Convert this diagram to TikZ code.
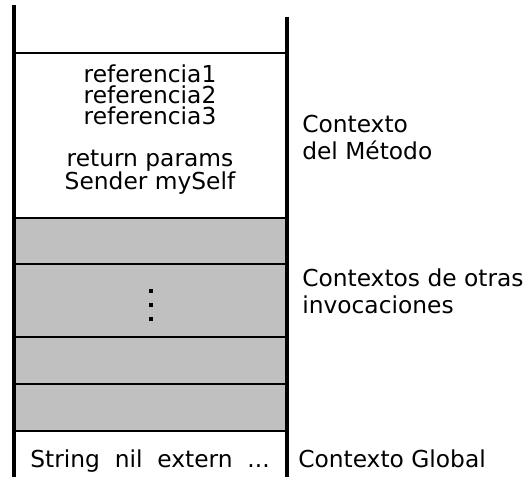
\documentclass[tikz,border=0pt]{standalone}
\usepackage{fontspec}
\setmainfont{DejaVu Sans}
\usetikzlibrary{positioning}
\definecolor{slotgray}{HTML}{C0C0C0}
\definecolor{wall}{HTML}{000000}
\tikzset{
  label text/.style={inner sep=0pt, font=\fontsize{17.5}{15.75}\selectfont},
  side text/.style={inner sep=0pt, align=left, anchor=base west,
    font=\fontsize{17.5}{20.25}\selectfont}
}

\begin{document}
\begin{tikzpicture}[x=0.75pt, y=-0.75pt]
  \useasboundingbox (0,0) rectangle (527,477);
  % Frames of other invocations
  \fill[slotgray] (14,218) rectangle (287,431);
  % Slot separators
  \foreach \y in {53, 218, 264, 337, 384, 431}
    \draw[line width=1.4pt] (14,\y) -- (287,\y);
  % Stack walls
  \draw[wall, line width=3.4pt] (14,5.5) -- (14,477);
  \draw[wall, line width=3.3pt] (287,17.5) -- (287,477);
  % Method context
  \node[label text, align=center, anchor=base] (meth) at (150,190)
    {referencia1\\referencia2\\referencia3\\[15.75pt]return params\\Sender mySelf};
  % Vertical ellipsis
  \foreach \y in {291, 305, 319}
    \fill (149,\y-2) rectangle ++(4.2,4.2);
  % Global context
  \node[label text, anchor=base] (glob) at (150,467)
    {String\ \ nil\ \ extern\ \ ...};
  % Side labels
  \node[side text] (methlbl) at (302,160) {Contexto\\del Método};
  \node[side text] (otherlbl) at (302,313) {Contextos de otras\\invocaciones};
  \node[side text] (globlbl) at (298,467) {Contexto Global};
\end{tikzpicture}
\end{document}
